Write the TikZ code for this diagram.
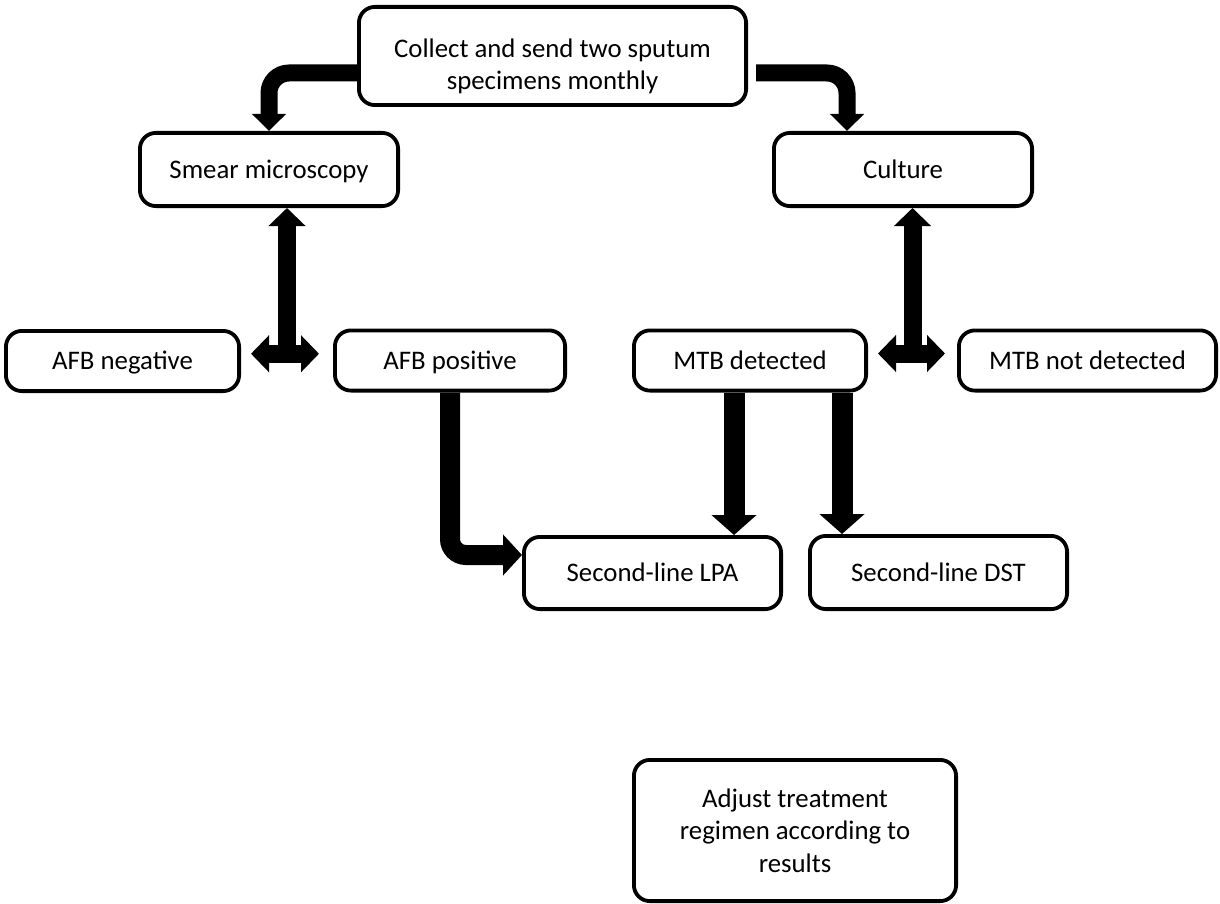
\documentclass[tikz,border=0pt]{standalone}
\usepackage{fontspec}
\setmainfont{Carlito}
\usetikzlibrary{arrows.meta,calc}
\begin{document}
\begin{tikzpicture}[x=0.5pt,y=-0.5pt,
  box/.style={draw=black, line width=1.9pt, rounded corners=8pt, align=center,
    font=\fontsize{13.4pt}{16.3pt}\selectfont, inner sep=0pt, fill=white},
  oneline/.style={box, text height=10.3pt, text depth=1.4pt},
  toparr/.style={line width=8.5pt, rounded corners=10pt, -{Triangle[width=16.5pt,length=8.5pt]}},
  tbar/.style={line width=9pt, {Triangle[width=18pt,length=9pt]}-{Triangle[width=18pt,length=9pt]}},
  tstem/.style={line width=9pt, -{Triangle[width=18pt,length=9pt]}},
  afbarr/.style={line width=10pt, rounded corners=8pt, -{Triangle[width=20pt,length=9.5pt]}},
  mtbarr/.style={line width=10.5pt, -{Triangle[width=22pt,length=10pt]}}]
\useasboundingbox (0,0) rectangle (1220,904);
% nodes
\node[box, minimum width=193.6pt, minimum height=49.1pt] (top) at (552.5,56) {\rule{0pt}{19.8pt}Collect and send two sputum\\specimens monthly};
\node[oneline, minimum width=129.1pt, minimum height=36.6pt] (smear) at (269,169.5) {Smear microscopy};
\node[oneline, minimum width=129.1pt, minimum height=36.6pt] (culture) at (903,169.5) {Culture};
\node[oneline, minimum width=116.6pt, minimum height=30.1pt] (afbneg) at (122.5,361) {AFB negative};
\node[oneline, minimum width=115.1pt, minimum height=30.1pt] (afbpos) at (450,360.5) {AFB positive};
\node[oneline, minimum width=116.1pt, minimum height=30.1pt] (mtb) at (750,360.5) {MTB detected};
\node[oneline, minimum width=128.6pt, minimum height=30.1pt] (mtbnot) at (1087.5,360.5) {MTB not detected};
\node[oneline, minimum width=128.6pt, minimum height=36.1pt] (lpa) at (652.5,573) {Second-line LPA};
\node[oneline, minimum width=128.6pt, minimum height=36.6pt] (dst) at (938.5,572.5) {Second-line DST};
\node[box, minimum width=161.1pt, minimum height=70.6pt] (final) at (795,830.5) {Adjust treatment\\regimen according to\\results};
% top arrows
\draw[toparr] ($(top.west)+(0,17)$) -| (smear.north);
\draw[toparr] ($(top.east)+(8,17)$) -| ($(culture.north)+(-56,0)$);
% left T arrow
\coordinate (tl) at ($(afbneg.east)!0.5!(afbpos.west)+(0,-7)$);
\draw[tbar] ($(afbneg.east |- tl)+(10,0)$) -- ($(afbpos.west |- tl)+(-14,0)$);
\draw[tstem] (tl) -- (tl |- smear.south);
% right T arrow
\coordinate (tr) at ($(mtb.east)!0.5!(mtbnot.west)+(0,-7)$);
\draw[tbar] ($(mtb.east |- tr)+(10,0)$) -- ($(mtbnot.west |- tr)+(-12,0)$);
\draw[tstem] (tr) -- (tr |- culture.south);
% AFB positive -> LPA
\draw[afbarr] (afbpos.south) |- ($(lpa.west)+(0,-18)$);
% MTB detected -> LPA, DST
\coordinate (m1) at ($(mtb.south)+(-16,0)$);
\coordinate (m2) at ($(mtb.south)+(92,0)$);
\draw[mtbarr] (m1) -- (m1 |- lpa.north);
\draw[mtbarr] (m2) -- (m2 |- dst.north);
\end{tikzpicture}
\end{document}
